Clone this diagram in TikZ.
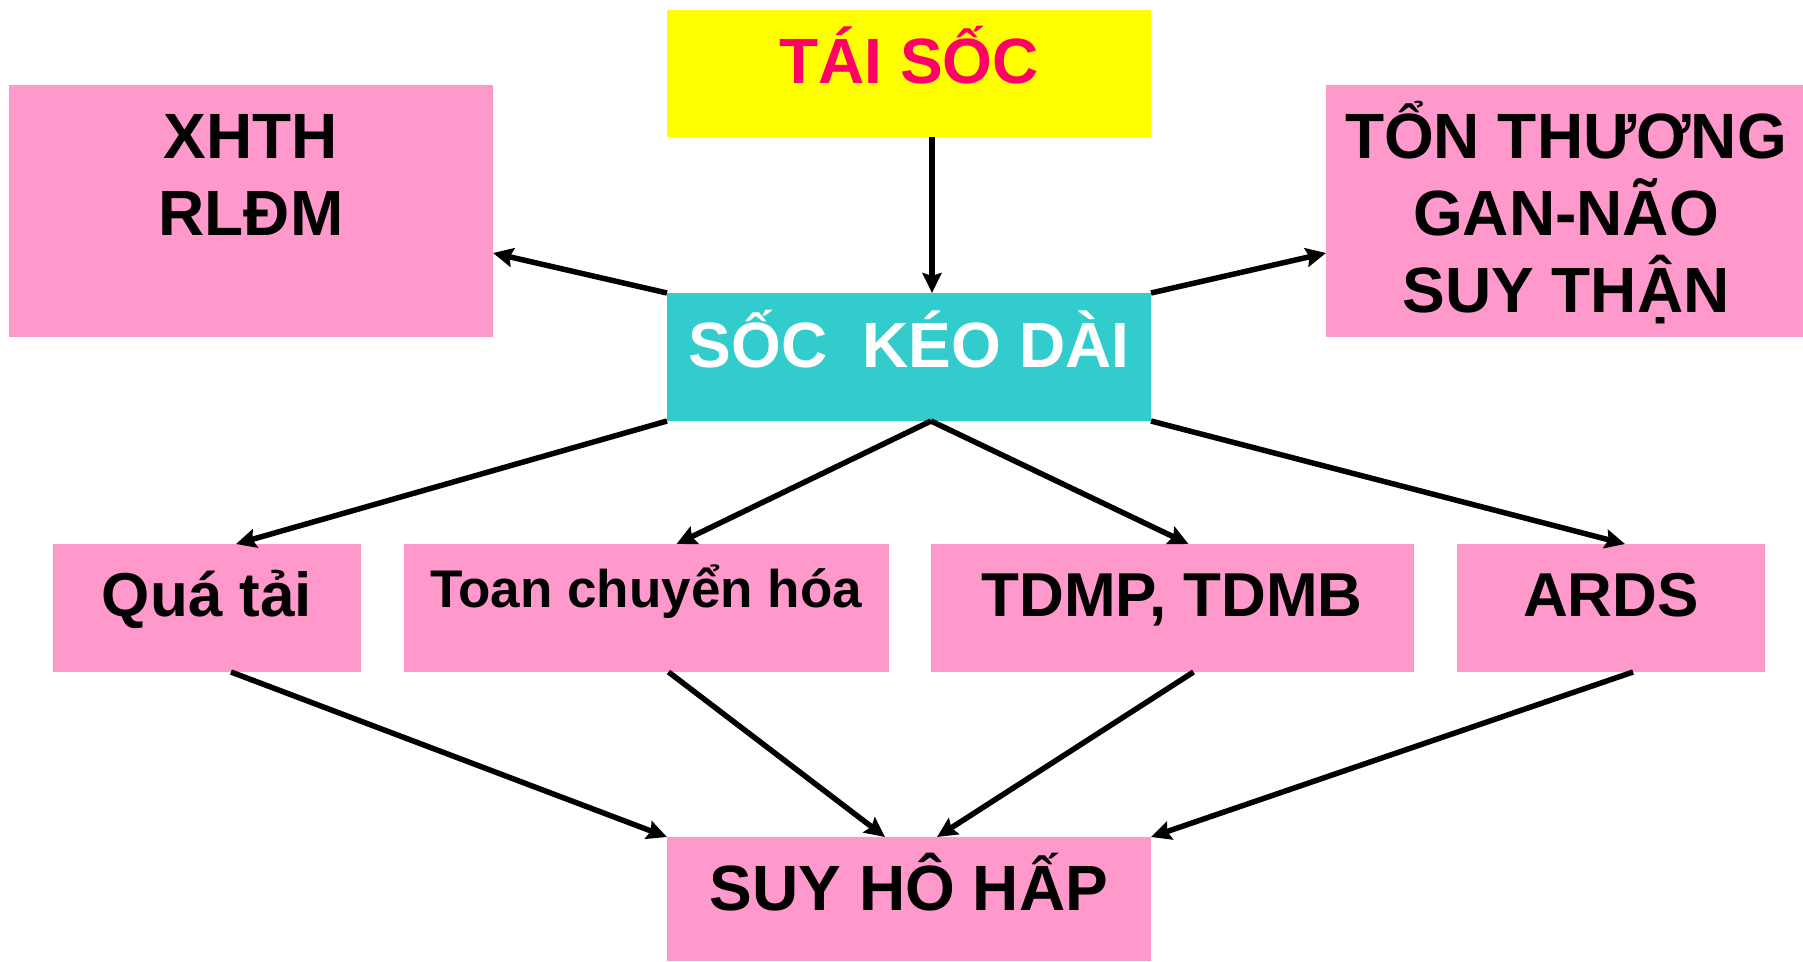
\documentclass[tikz,border=0pt]{standalone}
\usepackage{fontspec}
\setmainfont{Liberation Sans}
\usetikzlibrary{arrows.meta,calc}
\definecolor{pinkc}{HTML}{FF99CC}
\definecolor{yellowc}{HTML}{FFFF00}
\definecolor{cyanc}{HTML}{33CCCC}
\definecolor{magc}{HTML}{FF0066}
\tikzset{
  box/.style={inner sep=0pt, outer sep=0pt, anchor=north west, draw=none},
  lbl/.style={inner sep=0pt, anchor=base, font=\fontsize{64}{77}\selectfont\bfseries},
  lbls/.style={inner sep=0pt, anchor=base, font=\fontsize{62}{74}\selectfont\bfseries},
  arr/.style={line width=5.5pt, -{Stealth[length=20pt,width=19pt,inset=3pt]}},
}
\begin{document}
\begin{tikzpicture}[x=1pt,y=-1pt]
\useasboundingbox[fill=white] (0,0) rectangle (1803,961);
% boxes
\node[box, fill=yellowc, minimum width=484, minimum height=127] (tai) at (667,10) {};
\node[box, fill=cyanc, minimum width=484, minimum height=128] (soc) at (667,293) {};
\node[box, fill=pinkc, minimum width=484, minimum height=252] (xhth) at (9,85) {};
\node[box, fill=pinkc, minimum width=477, minimum height=252] (ton) at (1326,85) {};
\node[box, fill=pinkc, minimum width=308, minimum height=128] (qt) at (53,544) {};
\node[box, fill=pinkc, minimum width=485, minimum height=128] (toan) at (404,544) {};
\node[box, fill=pinkc, minimum width=483, minimum height=128] (tdmp) at (931,544) {};
\node[box, fill=pinkc, minimum width=308, minimum height=128] (ards) at (1457,544) {};
\node[box, fill=pinkc, minimum width=484, minimum height=124] (suy) at (667,837) {};
% texts
\node[lbl, text=magc] (taiT) at (909,83) {TÁI SỐC};
\node[lbl, text=white] (socT) at (909,367) {SỐC\ \ KÉO DÀI};
\node[lbl] (xhthA) at (251,158) {XHTH};
\node[lbl] (xhthB) at (251,235) {RLĐM};
\node[lbl] (tonA) at (1566,158) {TỔN THƯƠNG};
\node[lbl] (tonB) at (1566,235) {GAN-NÃO};
\node[lbl] (tonC) at (1566,312) {SUY THẬN};
\node[lbls] (qtT) at (207,616) {Quá tải};
\node[inner sep=0pt, anchor=base, font=\fontsize{53}{64}\selectfont\bfseries] (toanT) at (646,607) {Toan chuyển hóa};
\node[lbls] (tdmpT) at (1172,616) {TDMP, TDMB};
\node[lbls] (ardsT) at (1611,616) {ARDS};
\node[lbl] (suyT) at (909,910) {SUY HÔ HẤP};
% arrows
\draw[arr] ([xshift=23pt]tai.south) -- ([xshift=23pt]soc.north);
\draw[arr] (soc.north west) -- ([yshift=-42pt]xhth.east);
\draw[arr] (soc.north east) -- ([yshift=-42pt]ton.west);
\draw[arr] (soc.south west) -- ([xshift=29pt]qt.north);
\draw[arr] ([xshift=22pt]soc.south) -- ([xshift=30pt]toan.north);
\draw[arr] ([xshift=22pt]soc.south) -- ([xshift=16pt]tdmp.north);
\draw[arr] (soc.south east) -- ([xshift=14pt]ards.north);
\draw[arr] ([xshift=24pt]qt.south) -- (suy.north west);
\draw[arr] ([xshift=22pt]toan.south) -- ([xshift=-24pt]suy.north);
\draw[arr] ([xshift=21pt]tdmp.south) -- ([xshift=28pt]suy.north);
\draw[arr] ([xshift=22pt]ards.south) -- (suy.north east);
\end{tikzpicture}
\end{document}
